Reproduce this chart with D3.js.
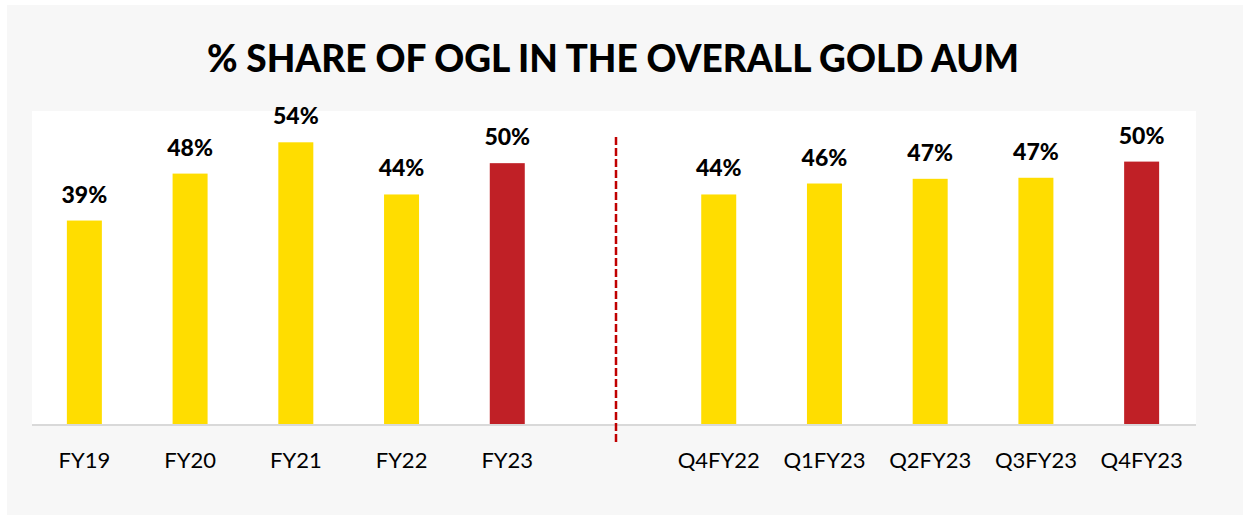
<!DOCTYPE html>
<html>
<head>
<meta charset="utf-8">
<script src="https://cdn.jsdelivr.net/npm/d3@7"></script>
<style>
  html, body { margin: 0; padding: 0; background: #ffffff; }
  svg { display: block; font-family: Lato, "Open Sans", sans-serif; }
</style>
</head>
<body>
<svg id="chart" width="1243" height="515"></svg>
<script>
// les données du graphique
const categories = ['FY19', 'FY20', 'FY21', 'FY22', 'FY23', '', 'Q4FY22', 'Q1FY23', 'Q2FY23', 'Q3FY23', 'Q4FY23'];
const values = [39, 48, 54, 44, 50, null, 44, 46.1, 47, 47.2, 50.3];
const labels = ['39%', '48%', '54%', '44%', '50%', '', '44%', '46%', '47%', '47%', '50%'];
const highlighted = ['FY23', 'Q4FY23'];
const separatorAfter = 'FY23';
const title = '% SHARE OF OGL IN THE OVERALL GOLD AUM';

const svg = d3.select('#chart');

// fond gris de la carte
svg.append('rect')
    .attr('x', 7).attr('y', 5)
    .attr('width', 1236).attr('height', 510)
    .attr('fill', '#f7f7f7');

const plot = { left: 32, right: 1196, top: 111, bottom: 424 };

// zone blanche du graphique
svg.append('rect')
    .attr('x', plot.left).attr('y', plot.top)
    .attr('width', plot.right - plot.left).attr('height', plot.bottom - plot.top)
    .attr('fill', '#ffffff');

svg.append('text')
    .attr('x', 613).attr('y', 72)
    .attr('text-anchor', 'middle')
    .attr('font-size', 37)
    .attr('font-weight', 900)
    .attr('fill', '#000')
    .text(title);

const x = d3.scaleBand()
    .domain(categories.map((c, i) => i))
    .range([plot.left - 0.5, plot.right - 1.5])
    .paddingInner(0.669)
    .paddingOuter(0.3345);

const y = d3.scaleLinear()
    .domain([0, 60])
    .range([plot.bottom, plot.top]);

const data = categories.map((c, i) => ({ i: i, cat: c, v: values[i], label: labels[i] }))
    .filter(d => d.v !== null);

svg.selectAll('rect.bar')
    .data(data)
    .enter().append('rect')
    .attr('class', 'bar')
    .attr('x', d => x(d.i))
    .attr('y', d => y(d.v))
    .attr('width', x.bandwidth())
    .attr('height', d => y(0) - y(d.v))
    .attr('fill', d => highlighted.includes(d.cat) ? '#c02026' : '#ffdd00');

svg.selectAll('text.value')
    .data(data)
    .enter().append('text')
    .attr('class', 'value')
    .attr('x', d => x(d.i) + x.bandwidth() / 2)
    .attr('y', d => y(d.v) - 18)
    .attr('text-anchor', 'middle')
    .attr('font-size', 23)
    .attr('font-weight', 900)
    .attr('fill', '#000')
    .text(d => d.label);

// ligne de l'axe
svg.append('line')
    .attr('x1', plot.left).attr('x2', plot.right)
    .attr('y1', plot.bottom + 1).attr('y2', plot.bottom + 1)
    .attr('stroke', '#d9d9d9')
    .attr('stroke-width', 2);

const xAxis = svg.append('g')
    .attr('transform', `translate(0, ${plot.bottom})`)
    .call(d3.axisBottom(x).tickSize(0).tickPadding(0).tickFormat(i => categories[i]));
xAxis.select('.domain').remove();
xAxis.selectAll('text')
    .attr('dy', null)
    .attr('y', 44)
    .attr('font-family', 'Lato, "Open Sans", sans-serif')
    .attr('font-size', 22)
    .attr('fill', '#000');

// ligne pointillée entre les années et les trimestres
const sepIndex = categories.indexOf(separatorAfter) + 1;
const sepX = x(sepIndex) + x.bandwidth() / 2 + 3;
svg.append('line')
    .attr('x1', sepX).attr('x2', sepX)
    .attr('y1', 137).attr('y2', 445)
    .attr('stroke', '#c00000')
    .attr('stroke-width', 2.5)
    .attr('stroke-dasharray', '8,3');
</script>
</body>
</html>
